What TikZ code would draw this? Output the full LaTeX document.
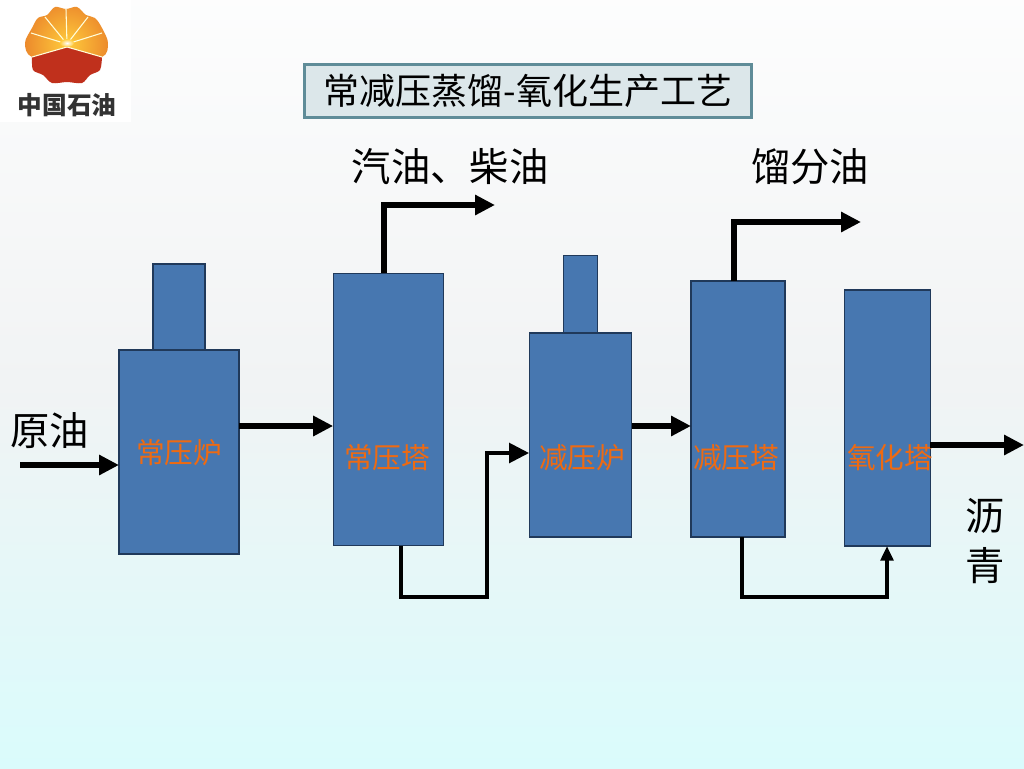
\documentclass[tikz,border=0pt]{standalone}
\usepackage{fontspec}
\setmainfont{Noto Sans CJK SC}
\usetikzlibrary{arrows.meta}
\definecolor{bottomcyan}{HTML}{D0FFFF}
\definecolor{midgrey}{HTML}{F1F3F4}
\definecolor{vesselblue}{HTML}{4777B0}
\definecolor{vesseledge}{HTML}{20395A}
\definecolor{labelorange}{HTML}{EE6A12}
\definecolor{titlefill}{HTML}{DCE7EA}
\definecolor{titleedge}{HTML}{5F8C98}
\definecolor{logored}{HTML}{C0301C}
\definecolor{logoorange}{HTML}{EC8A2C}
\definecolor{logoyellow}{HTML}{FFCC3C}
\pgfdeclareverticalshading{slidebg}{100bp}{
  color(0bp)=(bottomcyan);
  color(25bp)=(bottomcyan!70!midgrey);
  color(50bp)=(midgrey);
  color(80bp)=(white);
  color(100bp)=(white)}
\tikzset{
  vessel/.style={draw=vesseledge,fill=vesselblue,line width=0.8pt,inner sep=0pt,outer sep=0pt},
  vessellabel/.style={text=labelorange,font=\fontsize{21.5}{24}\selectfont,inner sep=0pt},
  biglabel/.style={text=black,font=\fontsize{29.5}{34}\selectfont,inner sep=0pt},
  flow/.style={line width=4.4pt,-{Triangle[length=15pt,width=14.5pt]}},
  lowflow/.style={line width=3.2pt,-{Triangle[length=15pt,width=14.5pt]}},
  thinflow/.style={line width=3pt,-{Triangle[length=11pt,width=9.5pt]}}
}
\begin{document}
\begin{tikzpicture}[x=0.75pt,y=-0.75pt]
    %% background
    \shade[shading=slidebg] (0,0) rectangle (1024,768);
    \useasboundingbox (0,0) rectangle (1024,768);
    %% logo
    \fill[white] (0,0) rectangle (131,122);
    \begin{scope}
        \clip plot[smooth cycle,tension=0.55] coordinates {(55,7) (66,9) (77,7) (86,15) (95,18) (102,28) (108,43) (102,57)
            (67,60) (32,57) (25,43) (32,28) (38,18) (47,15)};
        \shade[inner color=logoyellow,outer color=logoorange] (67,44) circle (42);
    \end{scope}
    \fill[logored] plot[smooth,tension=0.5] coordinates {(32,57) (33,70) (43,75) (52,83) (67,82) (82,83) (90,75) (100,70) (102,57)}
        -- (67,47) -- cycle;
    \foreach \rayx/\rayy in {66/9,45/17,88/17,31/33,102/33} {
        \draw[white!85!yellow,line width=0.8pt] (67,44) -- (\rayx,\rayy);
    }
    \draw[white!85!yellow,line width=0.8pt] (32,57) -- (67,47) -- (102,57);
    \shade[inner color=white,outer color=logoyellow] (67,43) ellipse (7 and 4);
    \node[inner sep=0pt,text=black!80,font=\fontsize{18.5}{22}\selectfont\bfseries] (logotext) at (67,105) {中国石油};
    %% title
    \node[draw=titleedge,fill=titlefill,line width=2pt,minimum width=335pt,minimum height=40pt,inner sep=0pt,
        font=\fontsize{27}{32}\selectfont] (title) at (528,91) {常减压蒸馏-氧化生产工艺};
    %% atmospheric furnace
    \node[vessel,minimum width=90pt,minimum height=153pt] (furnaceA) at (179,452) {};
    \node[vessel,minimum width=39pt,minimum height=64.5pt,anchor=south] (stackA) at (furnaceA.north -| 179,0) {};
    \node[vessellabel] (furnaceAlabel) at (179,453) {常压炉};
    %% atmospheric tower
    \node[vessel,minimum width=83pt,minimum height=204.5pt] (towerA) at (388.5,409.5) {};
    \node[vessellabel] (towerAlabel) at (387,458) {常压塔};
    %% vacuum furnace
    \node[vessel,minimum width=77pt,minimum height=153pt] (furnaceB) at (580.5,435) {};
    \node[vessel,minimum width=26pt,minimum height=58pt,anchor=south] (stackB) at (580.5,333) {};
    \node[vessellabel] (furnaceBlabel) at (582,458) {减压炉};
    %% vacuum tower
    \node[vessel,minimum width=70.5pt,minimum height=192pt] (towerB) at (738,409) {};
    \node[vessellabel] (towerBlabel) at (736,458) {减压塔};
    %% oxidation tower
    \node[vessel,minimum width=64pt,minimum height=192pt] (towerC) at (887.5,418) {};
    \node[vessellabel] (towerClabel) at (890,458) {氧化塔};
    %% product labels
    \node[biglabel] (crude) at (50,431) {原油};
    \node[biglabel] (gasoline) at (450,167) {汽油、柴油};
    \node[biglabel] (distillate) at (810,167) {馏分油};
    \node[biglabel,align=center,font=\fontsize{29.5}{38}\selectfont] (asphalt) at (985,541) {沥\\青};
    %% free ends
    \coordinate (crudestart) at (20,465);
    \coordinate (gasolineend) at (495,205);
    \coordinate (distillateend) at (861,222);
    \coordinate (asphaltend) at (1024,445);
    %% flows
    \draw[flow] (crudestart) -- (furnaceA.west |- crudestart);
    \draw[flow] (furnaceA.east |- 0,426) -- (towerA.west |- 0,426);
    \draw[flow] (384,0 |- towerA.north) |- (gasolineend);
    \draw[lowflow] (401,0 |- towerA.south) -- (401,597) -| (487,453) -- (furnaceB.west |- 0,453);
    \draw[flow] (furnaceB.east |- 0,426) -- (towerB.west |- 0,426);
    \draw[flow] (734,0 |- towerB.north) |- (distillateend);
    \draw[thinflow] (742,0 |- towerB.south) -- (742,597) -| (887,0 |- towerC.south);
    \draw[flow] (towerC.east |- asphaltend) -- (asphaltend);
\end{tikzpicture}
\end{document}
